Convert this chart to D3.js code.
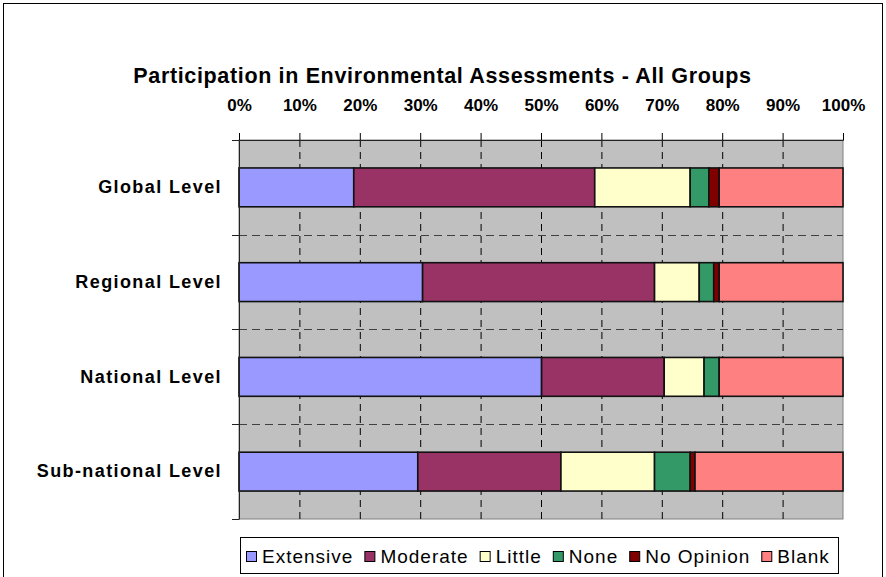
<!DOCTYPE html>
<html><head><meta charset="utf-8">
<script src="https://cdn.jsdelivr.net/npm/d3@7"></script>
<style>body{margin:0;background:#fff}svg{display:block}text{font-family:"Liberation Sans",Arial,sans-serif}</style>
</head><body><svg id="c" width="886" height="577"></svg>
<script>
const categories = ["Global Level","Regional Level","National Level","Sub-national Level"];
const seriesNames = ["Extensive","Moderate","Little","None","No Opinion","Blank"];
const extensive = [19.0, 30.4, 50.1, 29.6];
const moderate  = [39.9, 38.4, 20.3, 23.7];
const little    = [15.8, 7.4, 6.6, 15.5];
const none      = [3.1, 2.4, 2.5, 5.9];
const noOpinion = [1.7, 0.9, 0.0, 0.8];
const blank     = [20.5, 20.5, 20.5, 24.5];
const colors = ["#9999FF","#993366","#FFFFCC","#339966","#800000","#FF8080"];
const tickValues = [0,10,20,30,40,50,60,70,80,90,100];
const title = "Participation in Environmental Assessments - All Groups";

const seriesVals = [extensive, moderate, little, none, noOpinion, blank];
const rows = categories.map((c,i)=>{const o={cat:c}; seriesNames.forEach((s,j)=>o[s]=seriesVals[j][i]); return o;});
const stack = d3.stack().keys(seriesNames)(rows);

const svg = d3.select("#c");
const L=239, R=843, T=140, B=519;
svg.append("rect").attr("x",3.5).attr("y",3.5).attr("width",879).attr("height",580).attr("fill","#fff").attr("stroke","#000");

const x = d3.scaleLinear().domain([0,100]).range([L,R]);
const y = d3.scaleBand().domain(categories).range([T,B]).paddingInner(0.59).paddingOuter(0.295);

svg.append("text").attr("x",442.5).attr("y",83).attr("text-anchor","middle")
  .attr("font-weight","bold").attr("font-size",21.5).attr("letter-spacing",0.65).text(title);

svg.append("rect").attr("x",L).attr("y",T).attr("width",R-L).attr("height",B-T).attr("fill","#C0C0C0").attr("stroke","#808080");

// vertical gridlines
svg.append("g").selectAll("line").data(tickValues.slice(1,-1)).join("line")
  .attr("x1",d=>x(d)+0.5).attr("x2",d=>x(d)+0.5).attr("y1",T).attr("y2",B)
  .attr("stroke","#000").attr("stroke-dasharray","7,5");
// horizontal category separators
const sepY = c=>Math.round(y(c)-(y.step()-y.bandwidth())/2)+0.5;
svg.append("g").selectAll("line").data(categories.slice(1)).join("line")
  .attr("x1",L).attr("x2",R).attr("y1",sepY).attr("y2",sepY)
  .attr("stroke","#404040").attr("stroke-dasharray","8,5");

// bars
svg.append("g").selectAll("g").data(stack).join("g").attr("fill",(d,i)=>colors[i])
  .selectAll("rect").data(d=>d.filter(v=>v[1]-v[0]>0)).join("rect")
  .attr("x",d=>x(d[0])).attr("width",d=>x(d[1])-x(d[0]))
  .attr("y",d=>y(d.data.cat)).attr("height",y.bandwidth())
  .attr("stroke","#111").attr("stroke-width",1.6);

// top axis
const xa = d3.axisTop(x).tickValues(tickValues).tickFormat(d=>d+"%").tickSize(7).tickPadding(22);
const gx = svg.append("g").attr("transform",`translate(0,${T})`).call(xa);
gx.select(".domain").attr("stroke","#222");
gx.selectAll("text").attr("font-size",17).attr("font-weight","bold").attr("fill","#000")
  .attr("font-family","Liberation Sans, Arial, sans-serif");

// left axis
const ya = d3.axisLeft(y).tickSize(0).tickPadding(17);
const gy = svg.append("g").attr("transform",`translate(${L},0)`).call(ya);
gy.select(".domain").attr("stroke","#222");
gy.selectAll("text").attr("font-size",18).attr("font-weight","bold").attr("fill","#000")
  .attr("letter-spacing",1.4).attr("font-family","Liberation Sans, Arial, sans-serif");
const bounds = [T+0.5, ...categories.slice(1).map(sepY), B+0.5];
svg.append("g").selectAll("line").data(bounds).join("line")
  .attr("x1",L-7).attr("x2",L).attr("y1",d=>d).attr("y2",d=>d).attr("stroke","#222");

// legend
const lg = svg.append("g");
const lbox = lg.append("rect").attr("x",240.5).attr("y",537.5).attr("height",36).attr("fill","#fff").attr("stroke","#000");
let cx = 246;
seriesNames.forEach((s,i)=>{
  lg.append("rect").attr("x",cx+0.5).attr("y",551.5).attr("width",10).attr("height",10)
    .attr("fill",colors[i]).attr("stroke","#000");
  const t = lg.append("text").attr("x",cx+16).attr("y",563).attr("font-size",19).attr("letter-spacing",1).attr("fill","#000").text(s);
  cx += 16 + t.node().getComputedTextLength() + 11;
});
lbox.attr("width",838.5-240.5);
</script></body></html>
